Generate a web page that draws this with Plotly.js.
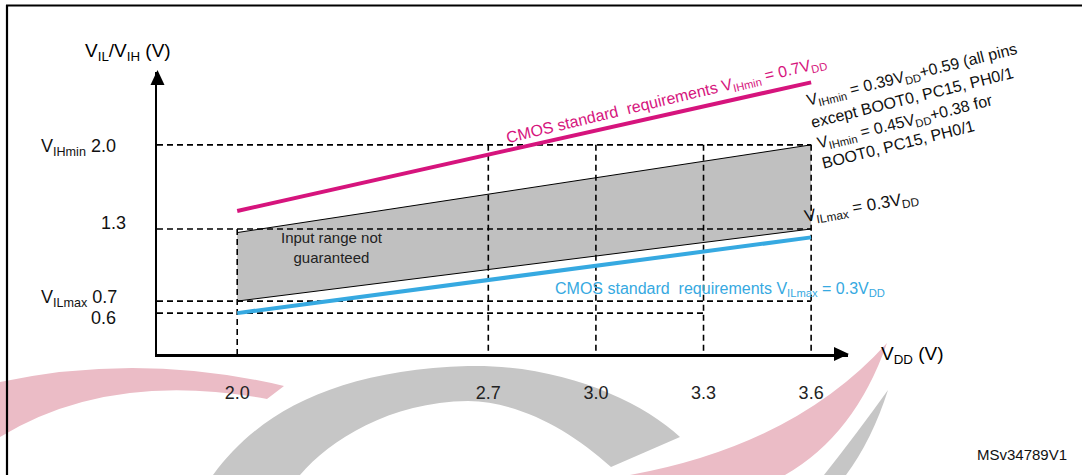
<!DOCTYPE html>
<html>
<head>
<meta charset="utf-8">
<script src="https://cdn.plot.ly/plotly-3.0.1.min.js"></script>
<style>html,body{margin:0;padding:0;background:#fff;}#chart{width:1082px;height:475px;}</style>
</head>
<body>
<div id="chart"></div>
<script>
// ---- data ----
const xTicks = [2.0, 2.7, 3.0, 3.3, 3.6];
const xTickLabels = ['2.0', '2.7', '3.0', '3.3', '3.6'];
const yTicks = [2.0, 1.3, 0.7, 0.6];
const yTickLabels = ['V<sub>IHmin</sub> 2.0', '1.3', 'V<sub>ILmax</sub> 0.7', '0.6'];
const vddEnds = [2.0, 3.6];
const cmosVihMin = [1.45, 2.52];   // CMOS standard VIHmin = 0.7 VDD
const cmosVilMax = [0.6, 1.23];    // CMOS standard VILmax = 0.3 VDD
const bandTop = [1.27, 2.0];       // device VIHmin
const bandBottom = [0.7, 1.3];     // device VILmax
const hGuideY = [2.0, 1.3, 0.7, 0.6];
const hGuideXEnd = [3.6, 3.6, 3.6, 3.3];
const vGuideX = [2.0, 2.7, 3.0, 3.3, 3.6];
const vGuideTop = [1.3, 2.0, 2.0, 2.0, 2.0];
const xRange = [1.7764, 3.7028];
const yRange = [0.2598, 2.6059];
const vihNoteLines = [
  'V<sub>IHmin</sub> = 0.39V<sub>DD</sub>+0.59 (all pins',
  'except BOOT0, PC15, PH0/1',
  'V<sub>IHmin</sub> = 0.45V<sub>DD</sub>+0.38 for',
  'BOOT0, PC15, PH0/1'
];

// ---- layout geometry ----
const FW = 1082, FH = 475;
const L = 157, T = 72, R = 848, B = 354;
const W = R - L, H = B - T;
const px = v => (v - L) / W;
const py = v => 1 - (v - T) / H;
function path(pts, close) {
  let s = '';
  pts.forEach((p, i) => {
    if (p[0] === 'Q' || p[0] === 'C') {
      s += ' ' + p[0] + ' ' + p.slice(1).map(q => px(q[0]).toFixed(5) + ',' + py(q[1]).toFixed(5)).join(' ');
    } else {
      s += (i === 0 ? 'M ' : ' L ') + px(p[0]).toFixed(5) + ',' + py(p[1]).toFixed(5);
    }
  });
  return s + (close ? ' Z' : '');
}

const FONT = 'Arial, "Liberation Sans", sans-serif';
const PINK = '#d6147d';
const BLUE = '#36a9e1';

// dashed guide lines
const gx = [], gy = [];
hGuideY.forEach((y, i) => { gx.push(xRange[0], hGuideXEnd[i], null); gy.push(y, y, null); });
vGuideX.forEach((x, i) => { gx.push(x, x, null); gy.push(vGuideTop[i], yRange[0], null); });

const traces = [
  { // input range not guaranteed band
    x: vddEnds.concat(vddEnds.slice().reverse()),
    y: bandTop.concat(bandBottom.slice().reverse()),
    mode: 'lines', fill: 'toself', fillcolor: '#c0c0c0',
    line: { width: 0, color: 'rgba(0,0,0,0)' }, hoverinfo: 'skip'
  },
  {
    x: gx, y: gy, mode: 'lines', connectgaps: false,
    line: { color: '#000', width: 1.6, dash: '6px,4px' }, hoverinfo: 'skip'
  },
  { x: vddEnds, y: bandTop, mode: 'lines', line: { color: '#000', width: 1 } },
  { x: vddEnds, y: bandBottom, mode: 'lines', line: { color: '#000', width: 1 } },
  { x: vddEnds, y: cmosVilMax, mode: 'lines', line: { color: BLUE, width: 4 } },
  { x: vddEnds, y: cmosVihMin, mode: 'lines', line: { color: PINK, width: 4 } }
];

const shapes = [
  // background watermark
  { type: 'path', xref: 'paper', yref: 'paper', layer: 'below', line: { width: 0 }, fillcolor: '#ebbcc6',
    path: path([[0, 382], ['Q', [140, 352], [284, 386]], [267, 399], ['Q', [110, 370], [0, 437]]], true) },
  { type: 'path', xref: 'paper', yref: 'paper', layer: 'below', line: { width: 0 }, fillcolor: '#c6c6c6',
    path: path([[213, 475], ['C', [260, 410], [340, 370], [468, 366]], ['C', [560, 364], [640, 400], [680, 437]],
               [611, 467], ['C', [570, 430], [520, 402], [468, 401]], ['C', [390, 402], [330, 440], [300, 475]]], true) },
  { type: 'path', xref: 'paper', yref: 'paper', layer: 'below', line: { width: 0 }, fillcolor: '#ebbcc6',
    path: path([[630, 475], ['Q', [795, 445], [887, 343]], ['Q', [855, 435], [785, 475]]], true) },
  { type: 'path', xref: 'paper', yref: 'paper', layer: 'below', line: { width: 0 }, fillcolor: '#c6c6c6',
    path: path([[888, 390], ['Q', [872, 440], [846, 475]], [824, 475], ['Q', [858, 432], [888, 390]]], true) },
  // frame
  { type: 'line', xref: 'paper', yref: 'paper', x0: px(6), x1: px(FW), y0: py(5.5), y1: py(5.5), line: { color: '#000', width: 2.2 } },
  { type: 'line', xref: 'paper', yref: 'paper', x0: px(7), x1: px(7), y0: py(5), y1: py(FH), line: { color: '#000', width: 2.2 } },
  // arrow heads
  { type: 'path', xref: 'paper', yref: 'paper', line: { width: 0 }, fillcolor: '#000',
    path: path([[849, 354], [834, 347], [834, 361]], true) },
  { type: 'path', xref: 'paper', yref: 'paper', line: { width: 0 }, fillcolor: '#000',
    path: path([[157.5, 70], [150.5, 85], [164.5, 85]], true) }
];

function ann(text, x, y, opts) {
  return Object.assign({ text: text, xref: 'paper', yref: 'paper', x: px(x), y: py(y),
    showarrow: false, xanchor: 'center', yanchor: 'middle',
    font: { family: FONT, size: 17, color: '#000' } }, opts || {});
}

// y-axis value labels (schematic axis: small offsets keep the close 0.6 / 0.7 labels apart)
const yLabelStyle = { 2.0: { dx: 0, dy: -3 }, 1.3: { dx: 10, dy: 6 }, 0.7: { dx: 1, dy: 3 }, 0.6: { dx: 0, dy: -5 } };
const yLabelAnns = yTicks.map((v, i) => ({
  text: yTickLabels[i], xref: 'paper', yref: 'y', x: px(118), y: v,
  xshift: yLabelStyle[v].dx, yshift: yLabelStyle[v].dy,
  xanchor: 'right', yanchor: 'middle', showarrow: false,
  font: { family: FONT, size: 18, color: '#111' }
}));

// rotated note block: each line anchored at the lower-left of its (tilted) text box
const NOTE_ANG = 14;
const noteOffsets = [0, 20.5, 44, 63.5];
const sn = Math.sin(NOTE_ANG * Math.PI / 180), cs = Math.cos(NOTE_ANG * Math.PI / 180);
const noteAnns = vihNoteLines.map((t, i) => {
  const bx = 802 + noteOffsets[i] * sn;
  const by = 113 + noteOffsets[i] * cs;
  return ann(t, bx, by, { xanchor: 'left', yanchor: 'bottom', textangle: -NOTE_ANG,
    font: { family: FONT, size: 16, color: '#111' } });
});

const annotations = yLabelAnns.concat(noteAnns, [
  ann('V<sub>IL</sub>/V<sub>IH</sub> (V)', 128, 52, { font: { family: FONT, size: 19, color: '#000' } }),
  ann('V<sub>DD</sub> (V)', 879, 355, { xanchor: 'left', font: { family: FONT, size: 19, color: '#000' } }),
  ann('CMOS standard  requirements V<sub>IHmin</sub> = 0.7V<sub>DD</sub>', 666, 100,
      { textangle: -13.5, font: { family: FONT, size: 16, color: PINK } }),
  ann('V<sub>ILmax</sub> = 0.3V<sub>DD</sub>', 862, 208, { textangle: -10, font: { family: FONT, size: 17, color: '#111' } }),
  ann('Input range not<br>guaranteed', 332, 247, { font: { family: FONT, size: 15, color: '#222' } }),
  ann('CMOS standard  requirements V<sub>ILmax</sub> = 0.3V<sub>DD</sub>', 553, 289,
      { xanchor: 'left', font: { family: FONT, size: 16, color: BLUE } }),
  ann('MSv34789V1', 1022, 454, { font: { family: FONT, size: 15, color: '#111' } })
]);

const layout = {
  width: FW, height: FH,
  margin: { l: L, r: FW - R, t: T, b: FH - B, pad: 0 },
  paper_bgcolor: '#fff', plot_bgcolor: 'rgba(0,0,0,0)',
  showlegend: false, hovermode: false,
  xaxis: {
    range: xRange, showgrid: false, zeroline: false, showline: true, linecolor: '#000', linewidth: 2.5,
    ticks: '', tickmode: 'array', tickvals: xTicks, ticktext: xTickLabels, ticklabelstandoff: 21,
    tickfont: { family: FONT, size: 18, color: '#222' }, fixedrange: true
  },
  yaxis: {
    range: yRange, showgrid: false, zeroline: false, showline: true, linecolor: '#000', linewidth: 2.5,
    showticklabels: false, ticks: '', fixedrange: true
  },
  shapes: shapes,
  annotations: annotations
};

Plotly.newPlot('chart', traces, layout, { displayModeBar: false, staticPlot: true });
</script>
</body>
</html>
